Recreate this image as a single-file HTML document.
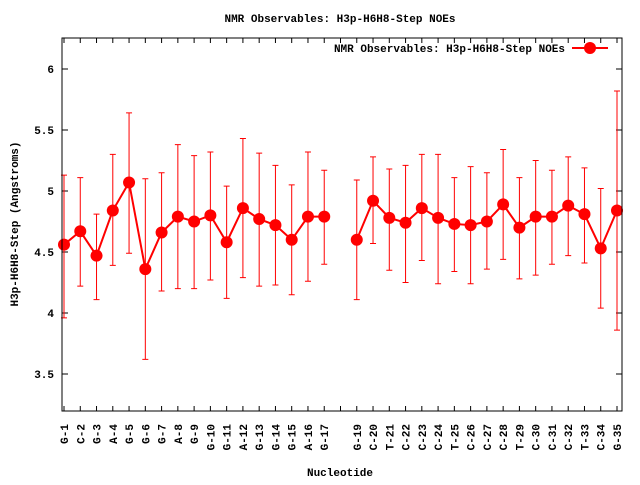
<!DOCTYPE html>
<html><head><meta charset="utf-8"><style>
html,body{margin:0;padding:0;background:#fff}
svg text{font-family:"Liberation Mono","DejaVu Sans Mono",monospace;font-size:11px;font-weight:bold;fill:#000}
</style></head><body>
<svg id="chart" width="640" height="480" xmlns="http://www.w3.org/2000/svg">
<text x="340" y="22" text-anchor="middle">NMR Observables: H3p-H6H8-Step NOEs</text>
<text x="340" y="476" text-anchor="middle">Nucleotide</text>
<text transform="translate(18,224) rotate(-90)" text-anchor="middle">H3p-H6H8-Step (Angstroms)</text>
<g id="grid"></g>
<g id="marks"></g>
<rect x="62" y="38" width="560" height="373" fill="none" stroke="#000" stroke-width="1"/>
<text x="565" y="52" text-anchor="end">NMR Observables: H3p-H6H8-Step NOEs</text>
<line x1="572" y1="48" x2="608" y2="48" stroke="#f00" stroke-width="2"/>
<circle cx="590" cy="48" r="6" fill="#f00"/>
</svg>
<script>
const categories=["G-1","C-2","G-3","A-4","G-5","G-6","G-7","A-8","G-9","G-10","G-11","A-12","G-13","G-14","G-15","A-16","G-17","","G-19","C-20","T-21","C-22","C-23","C-24","T-25","C-26","C-27","C-28","T-29","C-30","C-31","C-32","T-33","C-34","G-35"];
const values=[4.56,4.67,4.47,4.84,5.07,4.36,4.66,4.79,4.75,4.80,4.58,4.86,4.77,4.72,4.60,4.79,4.79,null,4.60,4.92,4.78,4.74,4.86,4.78,4.73,4.72,4.75,4.89,4.70,4.79,4.79,4.88,4.81,4.53,4.84];
const highs=[5.13,5.11,4.81,5.30,5.64,5.10,5.15,5.38,5.29,5.32,5.04,5.43,5.31,5.21,5.05,5.32,5.17,null,5.09,5.28,5.18,5.21,5.30,5.30,5.11,5.20,5.15,5.34,5.11,5.25,5.17,5.28,5.19,5.02,5.82];
const lows=[3.96,4.22,4.11,4.39,4.49,3.62,4.18,4.20,4.20,4.27,4.12,4.29,4.22,4.23,4.15,4.26,4.40,null,4.11,4.57,4.35,4.25,4.43,4.24,4.34,4.24,4.36,4.44,4.28,4.31,4.40,4.47,4.41,4.04,3.86];
const yTicks=[3.5,4,4.5,5,5.5,6];
const yTickLabels=["3.5","4","4.5","5","5.5","6"];
const NS="http://www.w3.org/2000/svg";
const L=62,R=622,T=38,B=411;
function xs(i){return 64+i*(617-64)/34;}
function ys(v){return 191-(v-5)*122;}
function mk(tag,attrs,parent){const e=document.createElementNS(NS,tag);for(const k in attrs)e.setAttribute(k,attrs[k]);parent.appendChild(e);return e;}
const g=document.getElementById('grid'),m=document.getElementById('marks');
yTicks.forEach((v,i)=>{const y=ys(v);
 let t=mk('line',{x1:L,y1:y,x2:L+6,y2:y,stroke:'#000'},g);
 
 
 t=mk('line',{x1:R-6,y1:y,x2:R,y2:y,stroke:'#000'},g);
 
 
 const tx=mk('text',{x:L-8,y:y+4,'text-anchor':'end'},g);tx.textContent=yTickLabels[i];
 
 
});
categories.forEach((c,i)=>{const x=xs(i);
 let t=mk('line',{x1:x,y1:B,x2:x,y2:B-5,stroke:'#000'},g);
 
 
 t=mk('line',{x1:x,y1:T,x2:x,y2:T+5,stroke:'#000'},g);
 
 
 if(c){const tx=mk('text',{transform:`translate(${x+4},424) rotate(-90)`,'text-anchor':'end'},g);tx.textContent=c;
 
 }
});
let seg=[];const segs=[];
values.forEach((v,i)=>{if(v==null){if(seg.length)segs.push(seg);seg=[];}else seg.push([xs(i),ys(v)]);});
if(seg.length)segs.push(seg);
values.forEach((v,i)=>{if(v==null)return;const x=xs(i),y1=ys(highs[i]),y2=ys(lows[i]);
 const p=mk('path',{d:`M${x},${y1}V${y2}M${x-3},${y1}H${x+3}M${x-3},${y2}H${x+3}`,stroke:'#f00','stroke-width':1,fill:'none'},m);
 
 
});
segs.forEach(s=>{const p=mk('polyline',{points:s.map(q=>q.join(',')).join(' '),stroke:'#f00','stroke-width':2,fill:'none'},m);
 
 
});
values.forEach((v,i)=>{if(v==null)return;const c=mk('circle',{cx:xs(i),cy:ys(v),r:6,fill:'#f00'},m);
 
 
});
</script>
</body></html>
